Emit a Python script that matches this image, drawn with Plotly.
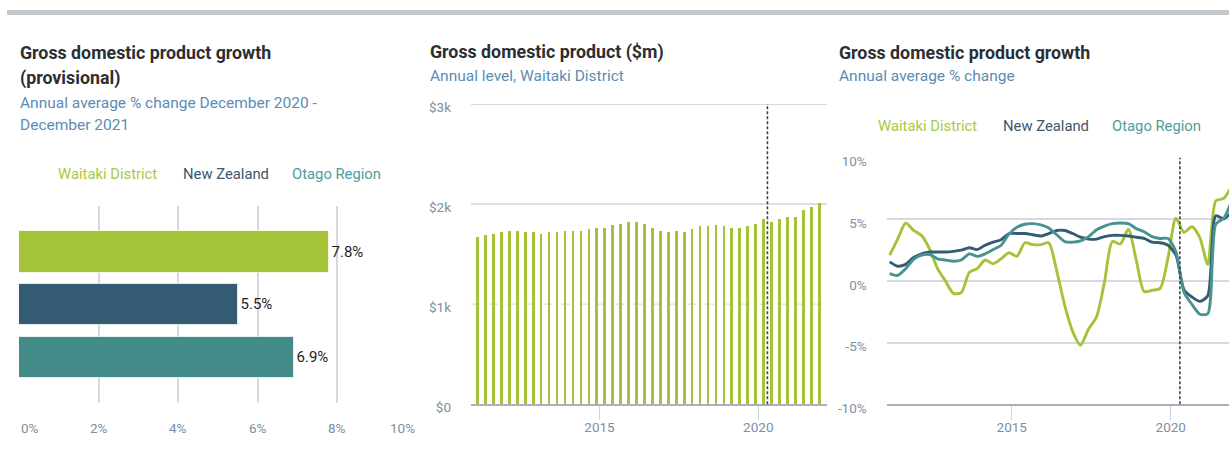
import plotly.graph_objects as go

W, H = 1229, 457

# ---------------- data ----------------
regions = ["Waitaki District", "New Zealand", "Otago Region"]
growth_dec2021 = [7.8, 5.5, 6.9]
bar_labels = ["7.8%", "5.5%", "6.9%"]
region_colors = ["#a4c339", "#345b74", "#438b88"]
legend_colors = ["#a9c944", "#3d566b", "#4d9c99"]

pct_ticks = [0, 2, 4, 6, 8, 10]
pct_tick_labels = ["0%", "2%", "4%", "6%", "8%", "10%"]

quarters = [f"{y}-{m:02d}-01" for y in range(2011, 2022) for m in (3, 6, 9, 12)]

gdp_level_waitaki = [1670, 1687, 1700, 1717, 1730, 1730, 1717, 1717, 1703, 1717, 1717,
                     1730, 1730, 1730, 1747, 1763, 1763, 1790, 1803, 1820, 1820, 1803,
                     1763, 1730, 1717, 1730, 1717, 1747, 1777, 1777, 1790, 1777, 1763,
                     1763, 1777, 1803, 1850, 1820, 1850, 1867, 1867, 1940, 1970, 2010]

growth_waitaki = [2.1, 3.4, 4.7, 4.1, 3.7, 2.6, 1.0, 0.0, -1.0, -0.95, 0.7, 1.0, 1.7, 1.4,
                  1.8, 2.3, 2.0, 3.1, 2.95, 2.95, 3.1, 0.8, -2.0, -4.1, -5.2, -3.9, -2.9,
                  -0.1, 3.2, 3.0, 4.2, 1.7, -0.85, -0.75, -0.6, 1.9, 5.1, 3.95, 4.4, 3.5,
                  1.35, 6.5, 6.7, 7.7]
growth_nz = [1.55, 1.2, 1.35, 1.9, 2.2, 2.35, 2.35, 2.35, 2.4, 2.5, 2.7, 2.55, 2.9, 3.15,
             3.35, 3.85, 3.85, 3.85, 3.75, 3.65, 3.85, 4.1, 4.1, 3.85, 3.55, 3.4, 3.4,
             3.6, 3.7, 3.7, 3.65, 3.55, 3.45, 3.15, 3.1, 2.9, 2.1, -0.7, -1.3, -1.65,
             -1.2, 5.3, 5.05, 5.6]
growth_otago = [0.6, 0.45, 1.0, 1.75, 2.1, 2.15, 1.8, 1.7, 1.6, 1.7, 2.2, 2.0, 2.2, 2.55,
                2.9, 3.8, 4.35, 4.6, 4.65, 4.55, 4.3, 3.75, 3.2, 3.15, 3.25, 3.6, 4.15,
                4.45, 4.65, 4.7, 4.65, 4.25, 4.0, 3.6, 3.45, 3.45, 2.35, -0.9, -1.9, -2.7,
                -2.65, 4.6, 5.1, 6.5]

level_ticks = [0, 1000, 2000, 3000]
level_tick_labels = ["$0", "$1k", "$2k", "$3k"]
level_grid_dash = ["solid", "dash", "solid", "solid"]

growth_ticks = [-10, -5, 0, 5, 10]
growth_tick_labels = ["-10%", "-5%", "0%", "5%", "10%"]

year_ticks = ["2015-01-01", "2020-01-01"]
covid_marker = "2020-04-15"

# ---------------- styles ----------------
FONT = "Roboto"
TITLE_C = "#2b2f33"
SUB_C = "#5b8cb5"
TICK_C = "#7d90a3"
GRID_C = "#d5dae0"
BASE_C = "#a7b0bb"


def px(x):
    return x / W


def py(y):
    return 1 - y / H


fig = go.Figure()

# ---- left: horizontal bars ----
fig.add_trace(go.Bar(
    x=growth_dec2021, y=regions, orientation="h",
    marker=dict(color=region_colors, line=dict(color="rgba(255,255,255,0.7)", width=1)),
    width=0.78, text=bar_labels, textposition="outside",
    textfont=dict(family=FONT, size=15, color="#1e1e1e"),
    cliponaxis=False, xaxis="x", yaxis="y", showlegend=False,
))

# ---- middle: GDP level bars ----
fig.add_trace(go.Bar(
    x=quarters, y=gdp_level_waitaki, marker=dict(color="#a4c339", line=dict(width=0)),
    width=31 * 86400000, xaxis="x2", yaxis="y2", showlegend=False,
))

# ---- right: growth lines ----
for name, vals, col in [("Waitaki District", growth_waitaki, "#a4c339"),
                        ("New Zealand", growth_nz, "#345b74"),
                        ("Otago Region", growth_otago, "#469390")]:
    fig.add_trace(go.Scatter(
        x=quarters, y=vals, mode="lines", name=name,
        line=dict(color=col, width=2.9, shape="spline", smoothing=0.7),
        xaxis="x3", yaxis="y3", showlegend=False,
    ))

fig.update_layout(
    width=W, height=H, margin=dict(l=0, r=0, t=0, b=0, autoexpand=False),
    paper_bgcolor="white", plot_bgcolor="white",
    font=dict(family=FONT, color=TICK_C, size=13.5),
    bargap=0,
    xaxis=dict(domain=[px(19), px(417)], range=[0, 10], tickvals=pct_ticks,
               showticklabels=False, showgrid=True, gridcolor=GRID_C, gridwidth=1.5,
               zeroline=False, showline=False, automargin=False),
    yaxis=dict(domain=[py(403), py(206)], range=[2.857, -0.87], type="category",
               showticklabels=False, showgrid=False, zeroline=False, showline=False,
               automargin=False),
    xaxis2=dict(domain=[px(471), px(827)], type="date",
                range=["2010-12-16", "2022-03-01"], tickvals=year_ticks, tickformat="%Y",
                ticks="outside", ticklen=14, tickcolor="#c9d3df", tickwidth=1,
                ticklabelstandoff=-5,
                showgrid=False, zeroline=False, showline=True, linecolor=BASE_C,
                linewidth=2, anchor="y2", automargin=False,
                tickfont=dict(size=13.5, color=TICK_C)),
    yaxis2=dict(domain=[py(404.3), py(104)], range=[0, 3000], tickvals=level_ticks,
                ticktext=level_tick_labels, showgrid=False, zeroline=False,
                showline=False, ticks="", ticklabelstandoff=19, ticklabelshift=3,
                anchor="x2", automargin=False, tickfont=dict(size=13.5, color=TICK_C)),
    xaxis3=dict(domain=[px(886.7), 1], type="date",
                range=["2011-01-26", "2021-10-31"], tickvals=year_ticks, tickformat="%Y",
                ticks="outside", ticklen=14, tickcolor="#c9d3df", tickwidth=1,
                ticklabelstandoff=-5,
                showgrid=False, zeroline=False, showline=True, linecolor=BASE_C,
                linewidth=2, anchor="y3", automargin=False,
                tickfont=dict(size=13.5, color=TICK_C)),
    yaxis3=dict(domain=[py(404.3), py(157.7)], range=[-10, 10], tickvals=growth_ticks,
                ticktext=growth_tick_labels, showgrid=True, gridcolor=GRID_C,
                gridwidth=1.5, zeroline=False, showline=False, ticks="",
                ticklabelstandoff=19, ticklabelshift=4, anchor="x3", automargin=False,
                tickfont=dict(size=13.5, color=TICK_C)),
)

shapes = []
# top rule
shapes.append(dict(type="line", xref="paper", yref="paper", x0=px(7), x1=1,
                   y0=py(12.5), y1=py(12.5), line=dict(color="#c3c8cd", width=5)))
# middle gridlines
for v, d in zip(level_ticks[1:], level_grid_dash[1:]):
    shapes.append(dict(type="line", xref="x2 domain", yref="y2", x0=0, x1=1, y0=v, y1=v,
                       layer="below",
                       line=dict(color=GRID_C if d == "solid" else "#d9dde2",
                                 width=1.8 if d == "solid" else 1.3, dash=d)))
# covid markers
for xr, yr in [("x2", "y2 domain"), ("x3", "y3 domain")]:
    shapes.append(dict(type="line", xref=xr, yref=yr, x0=covid_marker, x1=covid_marker,
                       y0=0, y1=1, line=dict(color="#444444", width=1.6, dash="3px,2px")))
fig.update_layout(shapes=shapes)

ann = []


def text(x, y, s, size, color, weight="normal", anchor="left"):
    ann.append(dict(xref="paper", yref="paper", x=px(x), y=py(y), text=s,
                    showarrow=False, xanchor=anchor, yanchor="middle",
                    font=dict(family=FONT, size=size, color=color, weight=weight)))


# titles
text(18, 52, "Gross domestic product growth", 17.8, TITLE_C, "bold")
text(18, 78, "(provisional)", 17.8, TITLE_C, "bold")
text(18, 103, "Annual average % change December 2020 -", 15.5, SUB_C)
text(18, 125, "December 2021", 15.5, SUB_C)
text(428, 52, "Gross domestic product ($m)", 17.8, TITLE_C, "bold")
text(428, 76, "Annual level, Waitaki District", 15.5, SUB_C)
text(837, 52, "Gross domestic product growth", 17.8, TITLE_C, "bold")
text(837, 76, "Annual average % change", 15.5, SUB_C)

# legends
for x, name, c in zip([56, 181, 290], regions, legend_colors):
    text(x, 174, name, 14.8, c)
for x, name, c in zip([876, 1001, 1110], regions, legend_colors):
    text(x, 126, name, 14.8, c)

# left x tick labels
for v, lab in zip(pct_ticks, pct_tick_labels):
    anchor = "left" if v == pct_ticks[0] else ("right" if v == pct_ticks[-1] else "center")
    ann.append(dict(xref="x", yref="paper", x=v, y=py(428), text=lab, showarrow=False,
                    xanchor=anchor, yanchor="middle",
                    font=dict(family=FONT, size=13.5, color=TICK_C)))

fig.update_layout(annotations=ann)
fig.write_html("out.html")
